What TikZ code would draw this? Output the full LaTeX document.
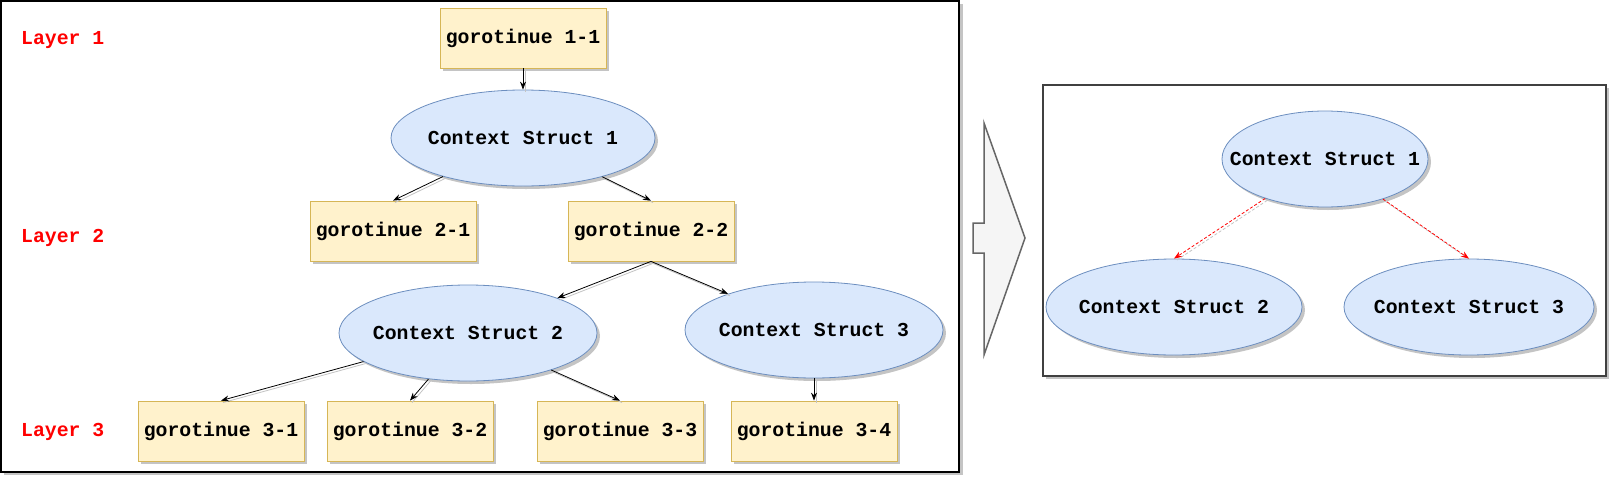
\documentclass[tikz,border=0pt]{standalone}
\usepackage{fontspec}
\setmonofont{Liberation Mono}
\usetikzlibrary{arrows.meta,shadows,shapes.geometric}
\definecolor{boxfill}{HTML}{FFF2CC}
\definecolor{boxline}{HTML}{D6B656}
\definecolor{ellfill}{HTML}{DAE8FC}
\definecolor{ellline}{HTML}{6C8EBF}
\definecolor{arrowfill}{HTML}{F5F5F5}
\definecolor{arrowline}{HTML}{666666}
\definecolor{shadowgray}{HTML}{C4C4C4}
\newcommand\ctxtext[1]{\makebox[0pt]{#1}}
\begin{document}
\begin{tikzpicture}[x=1pt,y=-1pt,
  lbl/.style={font=\fontsize{19.8}{22}\selectfont\ttfamily\bfseries},
  shad/.style={drop shadow={shadow xshift=3pt,shadow yshift=-3pt,fill=shadowgray,opacity=1}},
  gbox/.style={lbl,shad,draw=boxline,fill=boxfill,line width=0.8pt,minimum width=166pt,minimum height=60pt,inner sep=0pt},
  ctx/.style={lbl,shad,ellipse,draw=ellline,fill=ellfill,line width=0.8pt,inner sep=0pt,minimum height=96pt},
  layer/.style={lbl,text=red,anchor=west,inner sep=0pt},
  link/.style={draw=black,line width=0.8pt,-{Stealth[length=8pt,width=6pt]},
    preaction={draw=shadowgray,arrows=-,line width=0.8pt,transform canvas={xshift=2pt,yshift=-2pt}}},
  redlink/.style={draw=red,line width=0.8pt,dash pattern=on 3pt off 2pt,-{Stealth[length=8pt,width=6pt]},
    preaction={draw=shadowgray,arrows=-,line width=0.8pt,dash pattern=on 3pt off 2pt,transform canvas={xshift=2pt,yshift=-2pt}}}
]
\useasboundingbox (0,0) rectangle (1610,477);
% left frame
\fill[shadowgray] (4,4) rectangle (963,475);
\draw[fill=white,line width=1.2pt] (1,1) rectangle (959,472);
% right frame
\fill[shadowgray] (1046,88) rectangle (1609,379);
\draw[fill=white,draw=black!75,line width=1.2pt] (1043,85) rectangle (1606,376);
% big arrow
\draw[fill=arrowfill,draw=arrowline,line width=1.5pt,line join=miter]
  (984,123) -- (984,223) -- (973,223) -- (973,253) -- (984,253) -- (984,355) -- (1025,238) -- cycle;

% layer labels
\node[layer] (l1) at (21,40) {Layer 1};
\node[layer] (l2) at (21,238) {Layer 2};
\node[layer] (l3) at (21,432) {Layer 3};

% left tree
\node[gbox] (b11) at (523,38) {gorotinue 1-1};
\node[ctx,minimum width=264pt] (cs1) at (523,138) {\ctxtext{Context Struct 1}};
\node[gbox] (b21) at (393,231) {gorotinue 2-1};
\node[gbox] (b22) at (651,231) {gorotinue 2-2};
\node[ctx,minimum width=258pt] (cs2) at (468,333) {\ctxtext{Context Struct 2}};
\node[ctx,minimum width=258pt] (cs3) at (814,330) {\ctxtext{Context Struct 3}};
\node[gbox] (b31) at (221,431) {gorotinue 3-1};
\node[gbox] (b32) at (410,431) {gorotinue 3-2};
\node[gbox] (b33) at (620,431) {gorotinue 3-3};
\node[gbox] (b34) at (814,431) {gorotinue 3-4};

\draw[link] (b11) -- (cs1);
\draw[link] (cs1) -- (b21.north);
\draw[link] (cs1) -- (b22.north);
\draw[link] (b22.south) -- (cs2);
\draw[link] (b22.south) -- (cs3);
\draw[link] (cs2) -- (b31.north);
\draw[link] (cs2) -- (b32.north);
\draw[link] (cs2) -- (b33.north);
\draw[link] (cs3) -- (b34.north);

% right tree
\node[ctx,minimum width=206pt] (r1) at (1325,159) {\ctxtext{Context Struct 1}};
\node[ctx,minimum width=256pt] (r2) at (1174,307) {\ctxtext{Context Struct 2}};
\node[ctx,minimum width=250pt] (r3) at (1469,307) {\ctxtext{Context Struct 3}};
\draw[redlink] (r1) -- (r2.north);
\draw[redlink] (r1) -- (r3.north);
\end{tikzpicture}
\end{document}
